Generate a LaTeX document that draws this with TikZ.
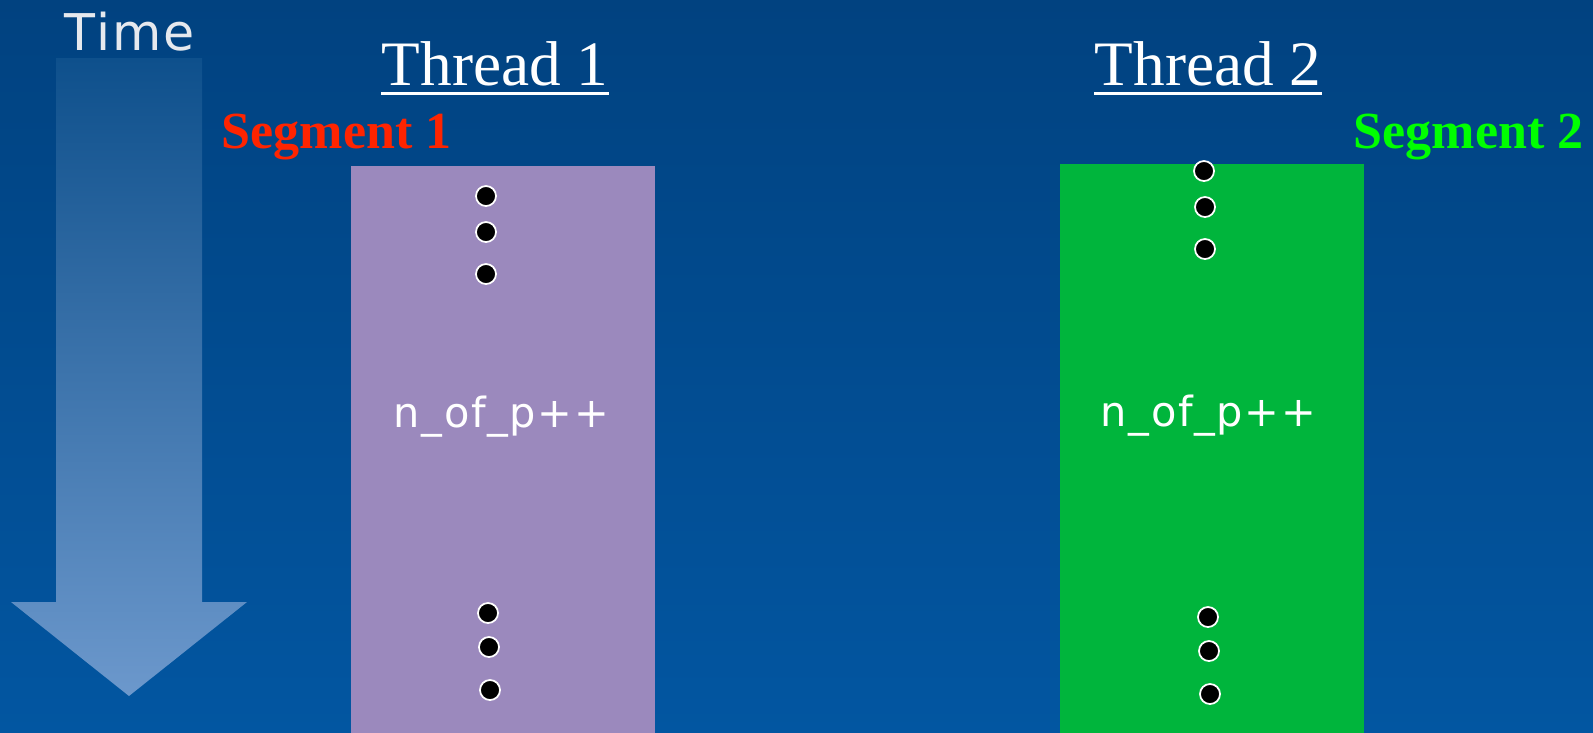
\documentclass[tikz,border=0pt]{standalone}
\usepackage{fontspec}
\usepackage{xcolor}
\usepackage{tikz}
\usetikzlibrary{positioning}

\setmainfont{Liberation Serif}
\newfontfamily\verdanalike{DejaVu Sans}[LetterSpace=4]

\definecolor{slidetop}{RGB}{1,66,128}
\definecolor{slidebottom}{RGB}{2,86,161}
\definecolor{arrowtop}{RGB}{14,80,140}
\definecolor{arrowbottom}{RGB}{108,152,204}
\definecolor{seg1box}{RGB}{155,137,189}
\definecolor{seg2box}{RGB}{0,181,60}
\definecolor{seg1red}{RGB}{255,36,0}
\definecolor{seg2green}{RGB}{0,255,0}
\definecolor{timegray}{RGB}{230,233,238}

\begin{document}
\begin{tikzpicture}[x=0.01cm, y=-0.01cm]
    \tikzstyle{segbox} = [rectangle, draw=none, minimum width=3.04cm, minimum height=5.7cm, inner sep=0pt, anchor=north west]
    \tikzstyle{threadlabel} = [text=white, inner sep=0pt, anchor=base west, font=\fontsize{18}{20}\selectfont]
    \tikzstyle{seglabel} = [inner sep=0pt, anchor=base west, font=\fontsize{14.8}{16}\selectfont\bfseries]
    \tikzstyle{code} = [text=white, inner sep=0pt, anchor=base west, font=\verdanalike\fontsize{11.8}{13}\selectfont]
    \tikzstyle{dot} = [circle, fill=black, draw=white, line width=0.5pt, minimum size=0.2cm, inner sep=0pt]
    \tikzstyle{underline} = [white, line width=0.85pt]

    % background
    \shade[top color=slidetop, bottom color=slidebottom] (0,0) rectangle (1593,732);
    \useasboundingbox (0,0) rectangle (1593,732);

    % time arrow
    \shade[top color=arrowtop, bottom color=arrowbottom]
        (56,58) -- (202,58) -- (202,602) -- (247,602) -- (129,696) -- (11,602) -- (56,602) -- cycle;
    \node [inner sep=0pt, anchor=base west, text=timegray, font=\verdanalike\fontsize{14.4}{16}\selectfont] (time) at (64,50) {Time};

    % Thread 1
    \node [threadlabel] (thread1) at (381,85) {Thread 1};
    \draw [underline] ([yshift=-0.08cm]thread1.base west) -- ([yshift=-0.08cm]thread1.base east);
    \node [seglabel, text=seg1red] (seg1) at (221,148) {Segment 1};
    \node [segbox, fill=seg1box] (box1) at (350,165) {};
    \node [code] (inc1) at (393,427) {n\_of\_p++};
    \node [dot] (a1) at (486,196) {};
    \node [dot] (a2) at (486,232) {};
    \node [dot] (a3) at (486,274) {};
    \node [dot] (b1) at (488,613) {};
    \node [dot] (b2) at (489,647) {};
    \node [dot] (b3) at (490,690) {};

    % Thread 2
    \node [threadlabel] (thread2) at (1094,85) {Thread 2};
    \draw [underline] ([yshift=-0.08cm]thread2.base west) -- ([yshift=-0.08cm]thread2.base east);
    \node [seglabel, text=seg2green] (seg2) at (1353,148) {Segment 2};
    \node [segbox, fill=seg2box] (box2) at (1059,163) {};
    \node [code] (inc2) at (1100,426) {n\_of\_p++};
    \node [dot] (c1) at (1204,171) {};
    \node [dot] (c2) at (1205,207) {};
    \node [dot] (c3) at (1205,249) {};
    \node [dot] (d1) at (1208,617) {};
    \node [dot] (d2) at (1209,651) {};
    \node [dot] (d3) at (1210,694) {};
\end{tikzpicture}
\end{document}
